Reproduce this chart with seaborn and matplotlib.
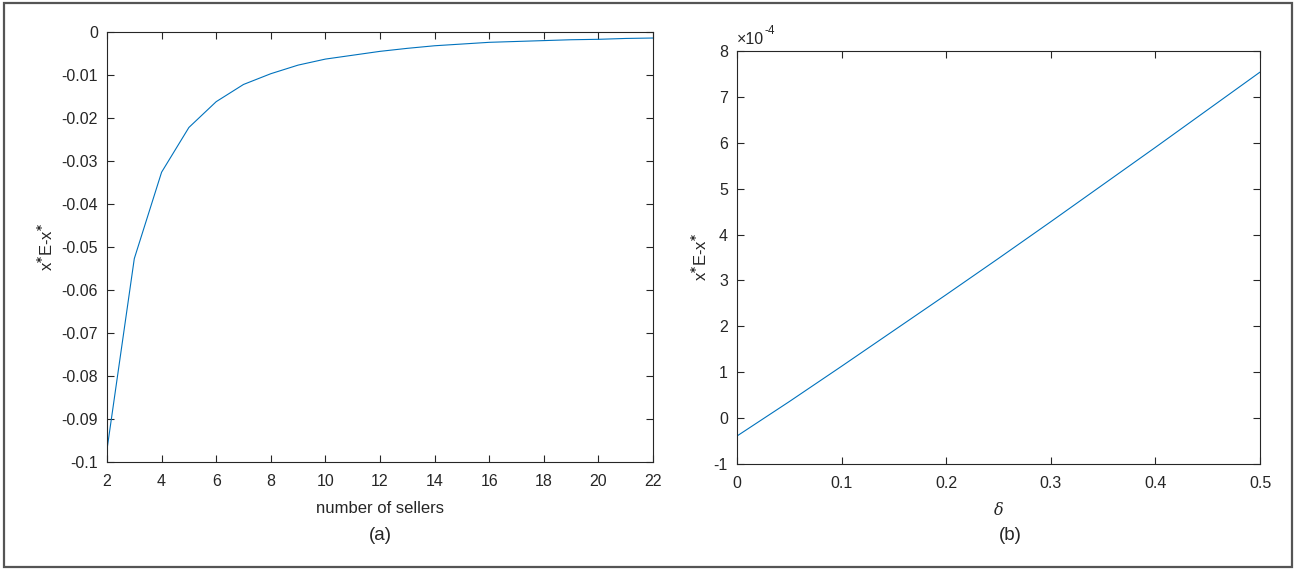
import numpy as np
import pandas as pd
import seaborn as sns
import matplotlib.pyplot as plt
from matplotlib import font_manager
from matplotlib.patches import Rectangle
from matplotlib.ticker import FuncFormatter

# (a) gap vs. number of sellers
sellers = [2, 3, 4, 5, 6, 7, 8, 9, 10, 11, 12, 13, 14, 15, 16, 17, 18, 19, 20, 21, 22]
gap_sellers = [-0.0971, -0.0527, -0.0326, -0.0222, -0.0162, -0.0122, -0.0097, -0.0077,
               -0.0063, -0.0054, -0.0045, -0.0038, -0.0032, -0.0028, -0.0024, -0.0022,
               -0.0020, -0.0018, -0.0017, -0.0015, -0.0014]

# (b) gap vs. delta, values read in units of 1e-4
delta = [0.0, 0.05, 0.1, 0.15, 0.2, 0.25, 0.3, 0.35, 0.4, 0.45, 0.5]
gap_delta_e4 = [-0.39, 0.36, 1.13, 1.91, 2.69, 3.48, 4.28, 5.09, 5.90, 6.72, 7.54]

xticks_a = [2, 4, 6, 8, 10, 12, 14, 16, 18, 20, 22]
yticks_a = [-0.1, -0.09, -0.08, -0.07, -0.06, -0.05, -0.04, -0.03, -0.02, -0.01, 0]
xticks_b = [0, 0.1, 0.2, 0.3, 0.4, 0.5]
yticks_b = [-1, 0, 1, 2, 3, 4, 5, 6, 7, 8]

df_a = pd.DataFrame({"sellers": sellers, "gap": gap_sellers})
df_b = pd.DataFrame({"delta": delta, "gap": np.array(gap_delta_e4) * 1e-4})

sns.set_style("ticks")
# the scan looks horizontally squeezed, a narrow face fits it best when there is one
names = {f.name for f in font_manager.fontManager.ttflist}
FONT = "Liberation Sans Narrow" if "Liberation Sans Narrow" in names else "Liberation Sans"
FS = 13 if FONT.endswith("Narrow") else 11.5
plt.rcParams["font.family"] = [FONT, "DejaVu Sans"]
plt.rcParams["axes.unicode_minus"] = False
plt.rcParams["mathtext.fontset"] = "custom"
plt.rcParams["mathtext.rm"] = FONT
plt.rcParams["mathtext.it"] = "DejaVu Serif:italic"

TXT = "#262626"
LINE = "#0072BD"
W, H = 1297, 571

fig = plt.figure(figsize=(W / 100, H / 100), dpi=100)
fig.patches.append(Rectangle((4 / W, 4 / H), 1 - 9 / W, 1 - 7 / H, transform=fig.transFigure,
                             fill=False, edgecolor="#555555", linewidth=1.6))

ax1 = fig.add_axes([107 / W, 1 - 462 / H, 546 / W, 430 / H])
ax2 = fig.add_axes([737 / W, 1 - 464 / H, 523 / W, 413 / H])

sns.lineplot(data=df_a, x="sellers", y="gap", ax=ax1, color=LINE, linewidth=0.8)
sns.lineplot(data=df_b, x="delta", y="gap", ax=ax2, color=LINE, linewidth=0.8)


def style_axes(ax):
    for sp in ax.spines.values():
        sp.set_visible(True)
        sp.set_color(TXT)
        sp.set_linewidth(0.8)
    ax.tick_params(direction="in", length=5, width=0.8, color=TXT, labelcolor=TXT,
                   labelsize=FS, top=True, right=True)
    ax.tick_params(axis="x", pad=9)
    ax.tick_params(axis="y", pad=6.5)


style_axes(ax1)
ax1.set_xlim(2, 22)
ax1.set_ylim(-0.1, 0)
ax1.set_xticks(xticks_a)
ax1.set_yticks(yticks_a)
ax1.yaxis.set_major_formatter(FuncFormatter(lambda v, p: "0" if abs(v) < 1e-12 else f"{v:g}"))
ax1.set_xlabel("number of sellers", fontsize=FS + 0.5, color=TXT, labelpad=8)
ax1.set_ylabel("x$^{\\mathbf{*}}$E-x$^{\\mathbf{*}}$", fontsize=FS + 0.5, color=TXT, labelpad=4)

style_axes(ax2)
ax2.set_xlim(0, 0.5)
ax2.set_ylim(-1e-4, 8e-4)
ax2.set_xticks(xticks_b)
ax2.set_yticks(np.array(yticks_b) * 1e-4)
ax2.xaxis.set_major_formatter(FuncFormatter(lambda v, p: f"{v:g}"))
ax2.yaxis.set_major_formatter(FuncFormatter(lambda v, p: f"{round(v * 1e4):d}"))
ax2.set_xlabel(r"$\delta$", fontsize=FS, color=TXT, labelpad=7)
ax2.set_ylabel("x$^{\\mathbf{*}}$E-x$^{\\mathbf{*}}$", fontsize=FS + 0.5, color=TXT, labelpad=3)

# MATLAB style exponent above the y axis
ax2.annotate("\u00d710", xy=(0, 1), xycoords="axes fraction", xytext=(0, 3),
             textcoords="offset points", fontsize=FS, color=TXT, ha="left", va="bottom")
ax2.annotate("-4", xy=(0, 1), xycoords="axes fraction", xytext=(19.5, 10),
             textcoords="offset points", fontsize=FS - 3, color=TXT, ha="left", va="bottom")

fig.text(380 / W, 1 - 535 / H, "(a)", fontsize=FS + 2, color=TXT, ha="center", va="center")
fig.text(1010 / W, 1 - 535 / H, "(b)", fontsize=FS + 2, color=TXT, ha="center", va="center")

fig.savefig("out.png", dpi=100)
